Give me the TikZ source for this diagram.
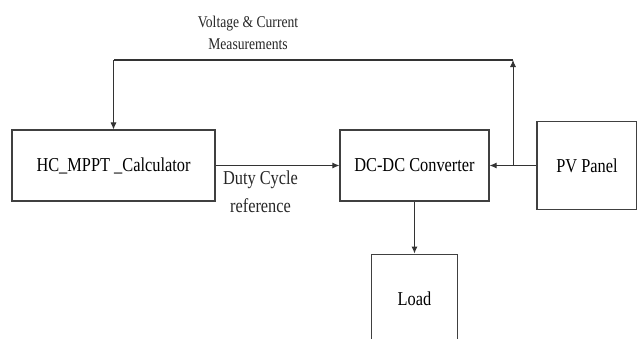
\documentclass[tikz,border=0pt]{standalone}
\usepackage{fontspec}
\setmainfont[FakeStretch=0.83]{Liberation Serif}
\usetikzlibrary{positioning,arrows.meta}

\begin{document}
\begin{tikzpicture}[
    x=1pt, y=-1pt,
    box/.style={rectangle, draw=black!75, line width=1.1pt, fill=white, align=center,
        font=\fontsize{19.7}{24}\selectfont},
    label/.style={align=center, text=black!85},
    arrow/.style={-{Latex[length=7pt,width=6pt]}, line width=1pt, draw=black!80}
]
\clip (0,0) rectangle (637,338);

% Blocks
\node[box, minimum width=203pt, minimum height=71pt] (calc) at (113.5,165.5) {HC\_MPPT \_Calculator};
\node[box, minimum width=149pt, minimum height=71pt] (conv) at (414.5,165.5) {DC-DC Converter};
\node[box, minimum width=100pt, minimum height=88pt] (pv) at (587,165.5) {PV Panel};
\node[box, minimum width=86pt, minimum height=90pt, below=52pt of conv] (load) {Load};

% Labels
\node[label, font=\fontsize{16.4}{21.5}\selectfont] (meas) at (248,33) {Voltage \& Current\\Measurements};
\node[label, font=\fontsize{19.7}{28}\selectfont] (duty) at (260.5,191.5) {Duty Cycle\\reference};

% Forward path
\draw[arrow] (calc.east) -- (conv.west);
\draw[arrow] (pv.west) -- (conv.east);
\draw[arrow] (conv.south) -- (load.north);

% Measurement feedback
\coordinate (tap) at (513,165.5);
\coordinate (cornerR) at (513,60);
\coordinate (cornerL) at (calc.north |- cornerR);
\draw[arrow, line width=0.8pt] (tap) -- (cornerR);
\draw[line width=1.6pt, black!80] (cornerR) -- (cornerL);
\draw[arrow, line width=0.8pt] (cornerL) -- (calc.north);

\end{tikzpicture}
\end{document}
